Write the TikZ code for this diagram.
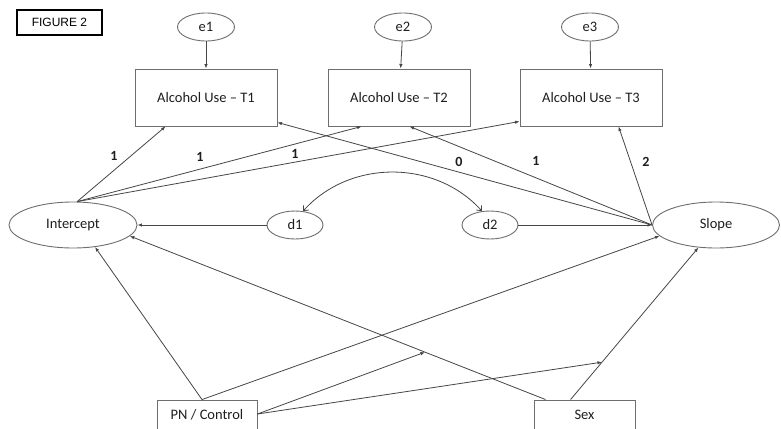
\documentclass[tikz,border=0pt]{standalone}
\usepackage{fontspec}
\setmainfont{Carlito}
\newfontfamily\arialfont{Liberation Sans}
\usetikzlibrary{arrows.meta,shapes.geometric,calc}
\definecolor{linecol}{RGB}{70,70,70}
\definecolor{boxcol}{RGB}{110,110,110}
\definecolor{txtcol}{RGB}{30,30,30}
\tikzset{
  obsbox/.style={draw=boxcol, line width=0.9pt, rectangle, inner sep=0pt, text=txtcol, font=\fontsize{14.5}{16}\selectfont},
  latent/.style={draw=boxcol, line width=0.9pt, ellipse, inner sep=0pt, text=txtcol, font=\fontsize{14.5}{16}\selectfont},
  arrowpath/.style={draw=linecol, line width=0.8pt, -{Latex[length=4.5pt,width=3.5pt]}},
  covpath/.style={draw=linecol, line width=0.8pt, {Straight Barb[length=4pt,width=7pt]}-{Straight Barb[length=4pt,width=7pt]}},
  coef/.style={text=txtcol, font=\bfseries\fontsize{14}{16}\selectfont, inner sep=0pt},
}
\begin{document}
\begin{tikzpicture}[x=1pt,y=-1pt]
\clip (0,0) rectangle (781,428);
\fill[white] (0,0) rectangle (781,428);

% title box
\node[draw=black, line width=1.2pt, minimum width=85pt, minimum height=25pt, inner sep=0pt,
      font=\arialfont\fontsize{12}{14}\selectfont] (fig) at (59.5,22.5) {FIGURE 2};

% error terms
\node[latent, minimum width=57pt, minimum height=28pt] (e1) at (206,27) {e1};
\node[latent, minimum width=57pt, minimum height=28pt] (e2) at (403,27) {e2};
\node[latent, minimum width=57pt, minimum height=28pt] (e3) at (590,27) {e3};

% observed alcohol use
\node[obsbox, minimum width=142pt, minimum height=57pt] (T1) at (206,97.5) {Alcohol Use -- T1};
\node[obsbox, minimum width=142pt, minimum height=57pt] (T2) at (399,97.5) {Alcohol Use -- T2};
\node[obsbox, minimum width=142pt, minimum height=57pt] (T3) at (591,97.5) {Alcohol Use -- T3};

% growth factors and disturbances
\node[latent, minimum width=128pt, minimum height=46pt] (Int) at (73,225) {Intercept};
\node[latent, minimum width=127pt, minimum height=46pt] (Slope) at (716,225) {Slope};
\node[latent, minimum width=56pt, minimum height=28pt] (d1) at (295,225) {d1};
\node[latent, minimum width=56pt, minimum height=28pt] (d2) at (490,225) {d2};

% covariates
\node[obsbox, minimum width=100pt, minimum height=30pt] (PN) at (207,415) {PN / Control};
\node[obsbox, minimum width=101pt, minimum height=30pt] (Sex) at (584.5,415) {Sex};

% error arrows
\draw[arrowpath] (e1) -- (T1);
\draw[arrowpath] (e2) -- (T2);
\draw[arrowpath] (e3) -- (T3);

% intercept loadings
\draw[arrowpath] (Int.80) -- ($(T1.south west)+(31,0)$);
\draw[arrowpath] (Int.80) -- ($(T2.south west)+(34,0)$);
\draw[arrowpath] (Int.80) -- ($(T3.south west)+(0,-5)$);

% slope loadings
\draw[arrowpath] (Slope.west) -- ($(T1.south east)+(0,-4)$);
\draw[arrowpath] (Slope.west) -- ($(T2.south west)+(82,0)$);
\draw[arrowpath] (Slope.west) -- ($(T3.south west)+(99,0)$);

% disturbances
\draw[arrowpath] (d1.west) -- (Int.east);
\draw[arrowpath] (d2.east) -- (Slope.west);
\draw[covpath] (d1.60) to[bend left=48] (d2.120);

% covariate paths
\draw[arrowpath] ($(PN.north)+(-5,0)$) -- (Int.-45);
\draw[arrowpath] ($(PN.north)+(-5,0)$) -- (Slope.191);
\draw[arrowpath] ($(Sex.north west)+(12,0)$) -- coordinate[pos=0.29] (m1) (Int.-11);
\draw[arrowpath] ($(Sex.north west)+(37,0)$) -- coordinate[pos=0.246] (m2) (Slope.232);
\draw[arrowpath] ($(PN.east)+(0,-1)$) -- (m1);
\draw[arrowpath] ($(PN.east)+(0,-1)$) -- (m2);

% coefficients
\node[coef] (l1) at (114,156) {1};
\node[coef] (l2) at (200,157) {1};
\node[coef] (l3) at (295,154) {1};
\node[coef] (l4) at (459,162) {0};
\node[coef] (l5) at (536,161) {1};
\node[coef] (l6) at (646,162) {2};
\end{tikzpicture}
\end{document}
